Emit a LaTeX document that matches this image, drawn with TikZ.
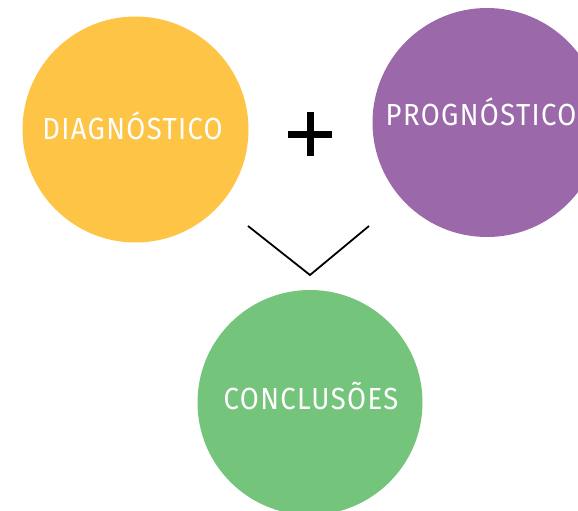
\documentclass[tikz,border=0pt]{standalone}
\usepackage{fontspec}
\newfontfamily\bubblefont[FakeStretch=0.9,LetterSpace=4.5]{Fira Sans}
\usetikzlibrary{positioning}
\definecolor{diagyellow}{HTML}{FDC445}
\definecolor{progpurple}{HTML}{9B68AA}
\definecolor{conclgreen}{HTML}{74C47C}

\begin{document}
\begin{tikzpicture}[x=1pt,y=-1pt,
  bubble/.style={circle,inner sep=0pt,minimum size=226pt},
  caption/.style={anchor=base,text=white,inner sep=0pt,font=\bubblefont\fontsize{30.5}{30.5}\selectfont}]
 \useasboundingbox (0,0) rectangle (578,511);
 % the three circles
 \node[bubble,fill=diagyellow] (diag) at (135.5,129.5) {};
 \node[bubble,fill=progpurple,minimum size=229pt] (prog) at (487,122.5) {};
 \node[bubble,fill=conclgreen,minimum size=225pt] (concl) at (310,402.5) {};
 % labels sit on their baselines
 \node[caption] (diagtext) at (132.5,139) {DIAGNÓSTICO};
 \node[caption] (progtext) at (481,125) {PROGNÓSTICO};
 \node[caption] (concltext) at (311,409) {CONCLUSÕES};
 % plus sign
 \coordinate (plus) at (310,134);
 \draw[line width=7pt] (plus)+(-22,0) -- +(22,0);
 \draw[line width=7pt] (plus)+(0,-22) -- +(0,22);
 % chevron pointing down
 \coordinate (chevl) at (248,226);
 \coordinate (chevtip) at (310,275);
 \coordinate (chevr) at (369,226);
 \draw[line width=1.8pt] (chevl) -- (chevtip) -- (chevr);
\end{tikzpicture}
\end{document}
